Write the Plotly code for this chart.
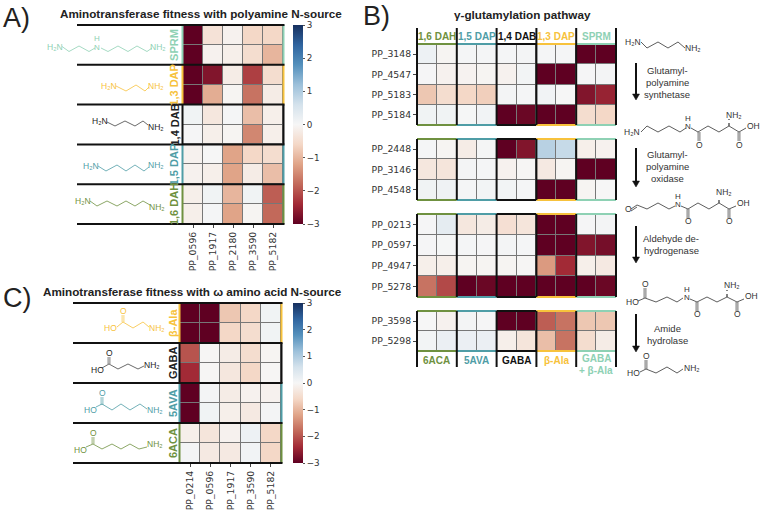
import plotly.graph_objects as go

W, H = 760, 513

# ---------------- data ----------------
A_columns = ["PP_0596", "PP_1917", "PP_2180", "PP_3590", "PP_5182"]
A_rows = ["SPRM 1", "SPRM 2", "1,3 DAP 1", "1,3 DAP 2", "1,4 DAB 1", "1,4 DAB 2",
          "1,5 DAP 1", "1,5 DAP 2", "1,6 DAH 1", "1,6 DAH 2"]
A_values = [
    [-3.0, -0.4, -0.1, -0.6, -0.6],
    [-3.0, -0.1, -0.15, -0.5, -1.0],
    [-3.0, -2.7, -0.2, -2.2, -0.5],
    [-3.0, -1.1, -0.05, -1.7, -0.2],
    [0.1, -0.3, 0.03, -0.9, -0.15],
    [0.02, -0.15, -0.05, -1.5, -0.15],
    [-0.1, 0.0, -1.2, -0.6, -0.5],
    [-0.1, -0.15, -1.2, -0.2, -0.9],
    [-0.15, 0.1, -1.0, 0.1, -1.9],
    [-0.15, 0.03, -1.2, -0.05, -1.8],
]

C_columns = ["PP_0214", "PP_0596", "PP_1917", "PP_3590", "PP_5182"]
C_rows = ["b-Ala 1", "b-Ala 2", "GABA 1", "GABA 2", "5AVA 1", "5AVA 2", "6ACA 1", "6ACA 2"]
C_values = [
    [-3.0, -3.0, -0.8, -0.6, 0.1],
    [-3.0, -3.0, -0.6, -0.5, 0.1],
    [-2.0, -0.02, -0.2, -0.5, -0.05],
    [-2.4, -0.03, -0.3, -0.6, -0.03],
    [-3.0, 0.05, -0.2, -0.1, -0.1],
    [-3.0, 0.1, -0.15, -0.25, 0.05],
    [-0.15, -0.35, -0.1, 0.15, -0.6],
    [0.05, -0.25, -0.25, 0.08, -0.6],
]

B_columns = ["c1", "c2", "c3", "c4", "c5", "c6", "c7", "c8", "c9", "c10"]
B1_rows = ["PP_3148", "PP_4547", "PP_5183", "PP_5184"]
B1_values = [
    [0.15, -0.05, 0.03, 0.03, 0.03, 0.05, 0.03, 0.03, -3.0, -3.0],
    [0.02, -0.1, -0.08, -0.05, -0.1, 0.07, -3.0, -3.0, 0.02, 0.05],
    [-0.8, -0.5, -0.6, -0.7, 0.06, 0.03, 0.08, 0.0, -2.7, -2.5],
    [0.1, 0.1, 0.01, 0.08, -3.0, -2.9, -3.0, -3.0, -0.5, -0.6],
]
B2_rows = ["PP_2448", "PP_3146", "PP_4548"]
B2_values = [
    [0.03, -0.05, -0.2, 0.04, -3.0, -2.7, 0.9, 0.75, -0.15, -0.1],
    [-0.3, -0.35, 0.05, 0.03, -0.1, -0.02, -0.25, -0.05, -3.0, -3.0],
    [0.1, 0.13, 0.03, 0.07, 0.07, 0.03, -3.0, -3.0, -0.05, 0.0],
]
B3_rows = ["PP_0213", "PP_0597", "PP_4947", "PP_5278"]
B3_values = [
    [0.02, 0.3, -0.3, -0.2, -0.45, -0.35, -3.0, -3.0, 0.02, 0.05],
    [0.02, 0.01, 0.03, 0.02, 0.05, 0.03, -3.0, -3.0, -2.7, -2.8],
    [-0.15, -0.15, -0.05, -0.05, -0.05, -0.03, -1.3, -2.4, -0.15, -0.25],
    [-1.7, -2.1, -3.0, -2.9, -3.0, -3.0, -3.0, -3.0, -3.0, -2.9],
]
B4_rows = ["PP_3598", "PP_5298"]
B4_values = [
    [0.0, -0.1, 0.05, 0.02, -3.0, -3.0, -1.9, -1.7, -0.8, -0.8],
    [0.07, 0.2, 0.2, 0.2, -0.15, -0.35, -0.9, -1.7, -0.5, -0.2],
]
color_ticks = [-3, -2, -1, 0, 1, 2, 3]

# ---------------- style ----------------
OLIVE, TEAL, BLACK, YELLOW, MINT = "#6f9140", "#4f9da6", "#111111", "#f7c23c", "#8ed1b4"
GRAY_MOL = "#333333"
RDBU = [[0.0, "#5f0022"], [0.1, "#a22a36"], [0.2, "#c2695a"], [0.3, "#e0a488"], [0.4, "#f4d8c7"],
        [0.5, "#f6f6f6"], [0.6, "#d4e2ec"], [0.7, "#9cc0da"], [0.8, "#5490bc"], [0.9, "#2f649f"],
        [1.0, "#17305f"]]
SERIF_TICK = "DejaVu Sans"
ARIAL = "Liberation Sans"

px = lambda x: x / W
py = lambda y: 1 - y / H

shapes, annotations = [], []


def line(x0, y0, x1, y1, color=BLACK, width=2.0, dash=None):
    shapes.append(dict(type="line", xref="paper", yref="paper", x0=px(x0), y0=py(y0), x1=px(x1), y1=py(y1),
                       line=dict(color=color, width=width, dash=dash or "solid")))


def poly(points, color, width=0.8):
    path = "M " + " L ".join(f"{px(a):.5f} {py(b):.5f}" for a, b in points)
    shapes.append(dict(type="path", xref="paper", yref="paper", path=path, line=dict(color=color, width=width)))


def text(x, y, s, size=8.5, color=GRAY_MOL, bold=False, angle=0, anchor="center", family=ARIAL):
    annotations.append(dict(xref="paper", yref="paper", x=px(x), y=py(y), text=f"<b>{s}</b>" if bold else s,
                            showarrow=False, xanchor=anchor, yanchor="middle", textangle=angle, borderpad=0,
                            font=dict(family=family, size=size, color=color)))


def double(x, y0, y1, color):
    line(x - 0.9, y0, x - 0.9, y1, color, 0.7)
    line(x + 0.9, y0, x + 0.9, y1, color, 0.7)


def arrow(x, y0, y1):
    line(x, y0, x, y1 - 4, "#111111", 2)
    path = f"M {px(x-3.5):.5f} {py(y1-6):.5f} L {px(x+3.5):.5f} {py(y1-6):.5f} L {px(x):.5f} {py(y1):.5f} Z"
    shapes.append(dict(type="path", xref="paper", yref="paper", path=path, fillcolor="#111111",
                       line=dict(color="#111111", width=0.5)))


H2N = "H\u2082N"
NH2 = "NH\u2082"

fig = go.Figure()
axis_no = [0]


def heat(z, xs, ys, left, right, top, bottom, colorbar=None, xticks=False, yticks=False):
    axis_no[0] += 1
    n = axis_no[0]
    suffix = "" if n == 1 else str(n)
    fig.add_trace(go.Heatmap(z=z, x=xs, y=ys, xaxis=f"x{suffix}", yaxis=f"y{suffix}", zmin=-3, zmax=3,
                             colorscale=RDBU, xgap=1, ygap=1, showscale=colorbar is not None,
                             colorbar=colorbar, hoverinfo="skip"))
    fig.layout[f"xaxis{suffix}"] = dict(domain=[px(left), px(right)], anchor=f"y{suffix}", type="category",
                                        showgrid=False, zeroline=False, showline=False,
                                        ticks="outside" if xticks else "", ticklen=3, tickcolor="#444444",
                                        tickwidth=0.8, showticklabels=xticks, tickangle=-90,
                                        tickfont=dict(family=SERIF_TICK, size=9.3, color="#333333"))
    fig.layout[f"yaxis{suffix}"] = dict(domain=[py(bottom), py(top)], anchor=f"x{suffix}", type="category",
                                        autorange="reversed", showgrid=False, zeroline=False, showline=False,
                                        ticks="outside" if yticks else "", ticklen=3, tickcolor="#444444",
                                        tickwidth=0.8, showticklabels=yticks,
                                        tickfont=dict(family=SERIF_TICK, size=9.3, color="#333333"))


def cbar(top, bottom):
    return dict(x=px(293), xanchor="left", xpad=0, y=py(bottom), yanchor="bottom", ypad=0, lenmode="pixels",
                len=bottom - top, thickness=10, thicknessmode="pixels", outlinewidth=0, tickmode="array",
                tickvals=color_ticks, ticktext=[str(t).replace("-", "\u2212") for t in color_ticks],
                ticks="outside", ticklen=2.5, tickwidth=0.7, tickcolor="#555555",
                tickfont=dict(family=SERIF_TICK, size=8.8, color="#333333"))


# ---------------- panel A ----------------
A_L, A_R, A_T, A_B = 183, 283, 25, 224
heat(A_values, A_columns, A_rows, A_L, A_R, A_T, A_B, colorbar=cbar(A_T, A_B), xticks=True)
A_groups = [("SPRM", MINT), ("1,3 DAP", YELLOW), ("1,4 DAB", BLACK), ("1,5 DAP", TEAL), ("1,6 DAH", OLIVE)]
step = (A_B - A_T) / 5
for i, (name, col) in enumerate(A_groups):
    y0, y1 = A_T + i * step, A_T + (i + 1) * step
    line(A_L - 0.5, y0, A_L - 0.5, y1, col, 2)
    line(A_R + 0.5, y0, A_R + 0.5, y1, col, 2)
    text(174, (y0 + y1) / 2, name, 11, "#222222" if col == BLACK else col, True, -90)
for i in range(6):
    line(77, A_T + i * step, A_R + 1.5, A_T + i * step, BLACK, 2)
text(59, 13, "Aminotransferase fitness with polyamine N-source", 11.7, "#222222", True, anchor="left")
text(2, 18, "A)", 27, "#222222", anchor="left")

# molecules of panel A
poly([(62, 46.5), (69, 51.5), (79, 46), (89, 51.5), (95, 48)], MINT)
poly([(101, 48), (108, 51.5), (118, 46), (128, 51.5), (137, 46), (147, 51.5), (152, 48)], MINT)
text(55, 46.5, H2N, 8.5, MINT); text(96.5, 47.5, "N", 8, MINT); text(96.5, 38.5, "H", 8, MINT); text(158, 46.5, NH2, 8.5, MINT)
poly([(116, 86), (126, 91), (136, 85), (145, 91), (149, 87)], YELLOW)
text(109, 86, H2N, 8.5, YELLOW); text(156, 86, NH2, 8.5, YELLOW)
poly([(107, 122), (115, 126), (125, 121), (135, 126), (143, 121), (148, 125)], "#444444")
text(99.5, 121, H2N, 8.5, "#222222"); text(156, 127, NH2, 8.5, "#222222")
poly([(98, 166), (106, 171), (117, 165), (126, 171), (135, 165), (144, 171), (149, 167)], TEAL)
text(90.5, 166, H2N, 8.5, TEAL); text(156, 165, NH2, 8.5, TEAL)
poly([(90, 201), (97, 206), (107, 201), (117, 206), (126, 201), (135, 206), (143, 201), (150, 205)], OLIVE)
text(82.5, 201, H2N, 8.5, OLIVE); text(157, 207, NH2, 8.5, OLIVE)

# ---------------- panel C ----------------
C_L, C_R, C_T, C_B = 180, 281, 303, 463
heat(C_values, C_columns, C_rows, C_L, C_R, C_T, C_B, colorbar=cbar(C_T, C_B), xticks=True)
C_groups = [("\u03b2-Ala", YELLOW), ("GABA", BLACK), ("5AVA", TEAL), ("6ACA", OLIVE)]
step = (C_B - C_T) / 4
for i, (name, col) in enumerate(C_groups):
    y0, y1 = C_T + i * step, C_T + (i + 1) * step
    line(C_L - 0.5, y0, C_L - 0.5, y1, col, 2)
    line(C_R + 0.5, y0, C_R + 0.5, y1, col, 2)
    text(173, (y0 + y1) / 2, name, 11, "#222222" if col == BLACK else col, True, -90)
for i in range(5):
    line(73, C_T + i * step, C_R + 1.5, C_T + i * step, BLACK, 2)
text(42, 291, "Aminotransferase fitness with \u03c9 amino acid N-source", 11.7, "#222222", True, anchor="left")
text(2, 298, "C)", 27, "#222222", anchor="left")

for (ox, oy, cy, chain, hox, hoy, nx, ny, col, tcol) in [
    (123, 311, 322, [(117, 327), (123, 322), (133, 328), (143, 322), (149, 327)], 110, 328, 157, 328, YELLOW, YELLOW),
    (109, 353, 364, [(102, 368), (109, 364), (118, 369), (128, 364), (138, 369), (144, 366)], 97, 370, 152, 365, "#444444", "#222222"),
    (102, 393, 405, [(96, 407), (102, 404), (112, 410), (121, 404), (130, 410), (140, 404), (147, 409)], 90, 410, 155, 410, TEAL, TEAL),
    (93, 433, 444, [(86, 447), (93, 444), (102, 449), (112, 444), (121, 449), (130, 444), (139, 449), (147, 447)], 80, 450, 155, 444, OLIVE, OLIVE),
]:
    poly(chain, col)
    double(ox, oy + 4, cy, col)
    text(ox, oy, "O", 8.5, tcol); text(hox, hoy, "HO", 8.5, tcol); text(nx, ny, NH2, 8.5, tcol)

# ---------------- panel B ----------------
B_L, B_R = 417, 616
B_blocks = [(B1_values, B1_rows, 44, 125), (B2_values, B2_rows, 139, 200),
            (B3_values, B3_rows, 214, 297), (B4_values, B4_rows, 311, 351)]
for vals, rows, top, bot in B_blocks:
    heat(vals, B_columns, rows, B_L, B_R, top, bot, yticks=True)

B_colors = [OLIVE, TEAL, BLACK, YELLOW, MINT]
step = (B_R - B_L) / 5
for j, col in enumerate(B_colors):
    x0, x1 = B_L + j * step, B_L + (j + 1) * step
    for _, _, top, bot in B_blocks:
        w = 2.2 if col == BLACK else 2.0
        line(x0, top, x1, top, col, w)
        line(x0, bot, x1, bot, col, w)
for k in range(6):
    xk = B_L + k * step
    line(xk, 28, xk, 125, BLACK, 2)
    line(xk, 139, xk, 200, BLACK, 2)
    line(xk, 214, xk, 297, BLACK, 2)
    line(xk, 311, xk, 367, BLACK, 2)

for j, (name, col) in enumerate(zip(["1,6 DAH", "1,5 DAP", "1,4 DAB", "1,3 DAP", "SPRM"], B_colors)):
    text(B_L + (j + 0.5) * step, 36, name, 10, col, True)
for j, (name, col) in enumerate(zip(["6ACA", "5AVA", "GABA", "\u03b2-Ala"], B_colors)):
    text(B_L + (j + 0.5) * step, 360, name, 10, col, True)
text(596, 358, "GABA", 10, MINT, True)
text(596, 370, "+ \u03b2-Ala", 10, MINT, True)
text(522, 14, "\u03b3-glutamylation pathway", 11.7, "#222222", True)
text(362, 16, "B)", 27, "#222222", anchor="left")

# pathway on the right
arrow(636, 63, 100); arrow(636, 148, 187); arrow(636, 226, 263); arrow(636, 314, 352)
for lines_, x, ys in [
    (["Glutamyl-", "polyamine", "synthetase"], 667, [70, 82, 94]),
    (["Glutamyl-", "polyamine", "oxidase"], 667, [155, 167, 179]),
    (["Aldehyde de-", "hydrogenase"], 671, [238, 250]),
    (["Amide", "hydrolase"], 667, [328, 340]),
]:
    for s, y in zip(lines_, ys):
        text(x, y, s, 9.5, "#333333")

# molecule 1
poly([(641, 42), (647, 48), (658, 42), (668, 48), (678, 42), (685, 48)], GRAY_MOL)
text(633, 42, H2N); text(693, 48, NH2)
# molecule 2
poly([(641, 132), (647, 126), (658, 132), (669, 126), (680, 132), (686, 128)], GRAY_MOL)
poly([(691, 128), (698, 132), (708, 126), (719, 132), (729, 126), (739, 132), (746, 128)], GRAY_MOL)
double(699, 132, 141, GRAY_MOL); double(739, 132, 141, GRAY_MOL)
line(729, 126, 729, 119, GRAY_MOL, 1.2, "dot")
text(632, 132, H2N); text(688, 126, "N", 8); text(688, 118, "H", 8); text(699, 145, "O")
text(739, 145, "O"); text(734, 115, NH2); text(753, 126, "OH")
# molecule 3
poly([(631, 209), (637, 205)], GRAY_MOL)
poly([(631, 211), (637, 207)], GRAY_MOL)
poly([(637, 205), (647, 209), (658, 203), (669, 209), (675, 206)], GRAY_MOL)
poly([(681, 206), (688, 209), (698, 203), (709, 209), (719, 203), (729, 209), (736, 206)], GRAY_MOL)
double(688, 209, 218, GRAY_MOL); double(729, 209, 218, GRAY_MOL)
line(719, 203, 719, 197, GRAY_MOL, 1.2, "dot")
text(628, 209, "O"); text(678, 204, "N", 8); text(678, 196, "H", 8); text(688, 221, "O")
text(729, 221, "O"); text(724, 192, NH2); text(743, 203, "OH")
# molecule 4
poly([(638, 301), (645, 298), (656, 302), (667, 297), (677, 302), (683, 298)], GRAY_MOL)
poly([(690, 299), (697, 302), (707, 297), (717, 302), (727, 297), (737, 302), (744, 299)], GRAY_MOL)
double(645, 288, 298, GRAY_MOL); double(697, 302, 311, GRAY_MOL); double(737, 302, 311, GRAY_MOL)
line(727, 297, 727, 290, GRAY_MOL, 1.2, "dot")
text(645, 284, "O"); text(632, 302, "HO"); text(687, 297, "N", 8); text(687, 289, "H", 8)
text(697, 314, "O"); text(737, 314, "O"); text(732, 285, NH2); text(751, 296, "OH")
# molecule 5
poly([(640, 372), (646, 369), (656, 373), (667, 367), (677, 373), (683, 369)], GRAY_MOL)
double(646, 360, 369, GRAY_MOL)
text(646, 356, "O"); text(633, 373, "HO"); text(692, 368, NH2)

fig.update_layout(width=W, height=H, margin=dict(l=0, r=0, t=0, b=0), autosize=False, showlegend=False,
                  paper_bgcolor="white", plot_bgcolor="#777777", shapes=shapes, annotations=annotations)
fig.write_html("out.html", config={"displayModeBar": False},
               post_script="document.body.style.margin='0';")
